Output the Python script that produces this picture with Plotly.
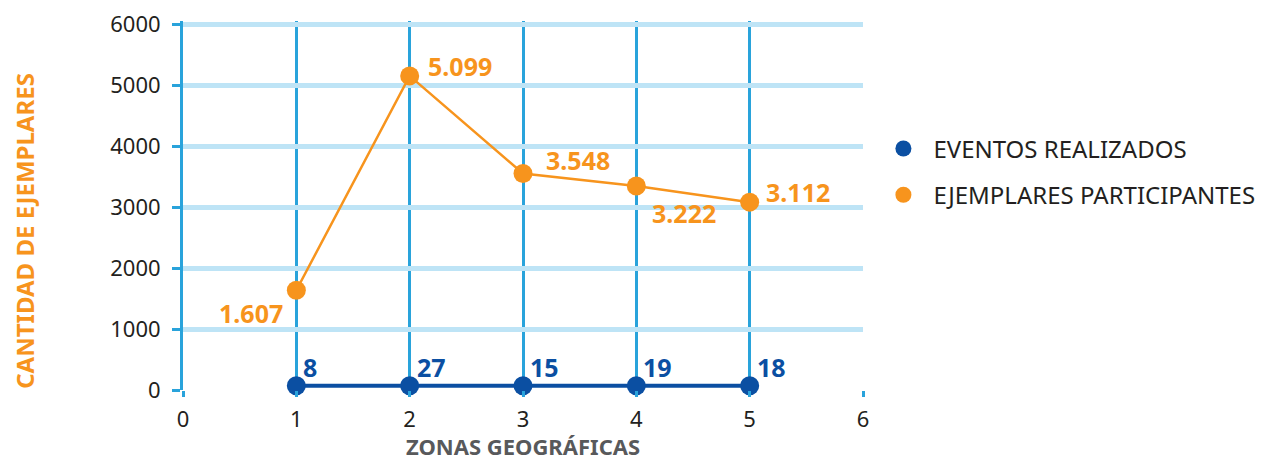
import plotly.graph_objects as go

# ---- data ----
zonas = [1, 2, 3, 4, 5]
# values as printed on the labels
eventos_labels = [8, 27, 15, 19, 18]
ejemplares_labels = ["1.607", "5.099", "3.548", "3.222", "3.112"]
# heights at which the points are drawn in the picture
eventos_plot = [70, 70, 70, 70, 70]
ejemplares_plot = [1635, 5150, 3550, 3345, 3080]
x_ticks = [0, 1, 2, 3, 4, 5, 6]
y_ticks = [0, 1000, 2000, 3000, 4000, 5000, 6000]

BLUE = "#0B4FA2"
ORANGE = "#F7941D"
LINE_BLUE = "#29A3DB"
GRID_BLUE = "#BEE4F6"
FONT = "Noto Sans"

fig = go.Figure()
series = [
    ("EVENTOS REALIZADOS", eventos_plot, BLUE, 4, "a"),
    ("EJEMPLARES PARTICIPANTES", ejemplares_plot, ORANGE, 2.5, "b"),
]
for name, ys, col, lw, grp in series:
    fig.add_trace(go.Scatter(x=zonas, y=ys, mode="lines", name=name, showlegend=False,
                             line=dict(color=col, width=lw), legendgroup=grp, hoverinfo="skip",
                             cliponaxis=False))
for name, ys, col, lw, grp in series:
    fig.add_trace(go.Scatter(x=zonas, y=ys, mode="markers", name=name, showlegend=True,
                             marker=dict(color=col, size=19), legendgroup=grp, hoverinfo="skip",
                             cliponaxis=False))

# label offsets (pixels, style only)
ej_shift = [(-45, -23), (50, 10), (55, 13), (48, -27), (48, 10)]
for x, y, t, (dx, dy) in zip(zonas, ejemplares_plot, ejemplares_labels, ej_shift):
    fig.add_annotation(x=x, y=y, text=t, showarrow=False, xanchor="center", yanchor="middle",
                       xshift=dx, yshift=dy,
                       font=dict(family=FONT, size=25, color=ORANGE, weight="bold"))
for x, y, t in zip(zonas, eventos_plot, eventos_labels):
    fig.add_annotation(x=x, y=y, text=str(t), showarrow=False, xanchor="left", yanchor="middle",
                       xshift=5, yshift=19,
                       font=dict(family=FONT, size=25, color=BLUE, weight="bold"))

fig.add_annotation(xref="paper", yref="paper", x=-0.2335, y=0.432, text="CANTIDAD DE EJEMPLARES",
                   textangle=-90, showarrow=False, xanchor="center", yanchor="middle",
                   font=dict(family=FONT, size=24, color=ORANGE, weight="bold"))

fig.update_xaxes(range=[0, 6], tickvals=x_ticks, showgrid=True, gridcolor=LINE_BLUE, gridwidth=3,
                 zeroline=False, showline=False, automargin=False,
                 ticks="outside", ticklen=6, tickwidth=3, tickcolor=LINE_BLUE,
                 ticklabelstandoff=4, ticklabeloverflow="allow",
                 tickfont=dict(family=FONT, size=22, color="#231F20"),
                 title=dict(text="ZONAS GEOGRÁFICAS", standoff=4,
                            font=dict(family=FONT, size=22, color="#58595B", weight="bold")))
fig.update_yaxes(range=[0, 6050], tickvals=y_ticks, showgrid=True, gridcolor=GRID_BLUE,
                 gridwidth=5, zeroline=False, showline=True, linecolor=LINE_BLUE, linewidth=3,
                 automargin=False,
                 ticks="outside", ticklen=8, tickwidth=3, tickcolor=LINE_BLUE,
                 ticklabelstandoff=7, ticklabeloverflow="allow",
                 tickfont=dict(family=FONT, size=22, color="#231F20"))

# the page adds an 8px body margin, so the figure is 8px smaller each way
fig.update_layout(
    width=1256, height=453,
    margin=dict(l=175, r=401, t=13, b=71, autoexpand=False),
    paper_bgcolor="white", plot_bgcolor="white",
    font=dict(family=FONT),
    showlegend=True,
    legend=dict(x=1.0153, y=0.591, xanchor="left", yanchor="middle",
                traceorder="grouped", tracegroupgap=12, itemwidth=50,
                font=dict(family=FONT, size=24, color="#231F20")),
)

fig.write_html("out.html")
